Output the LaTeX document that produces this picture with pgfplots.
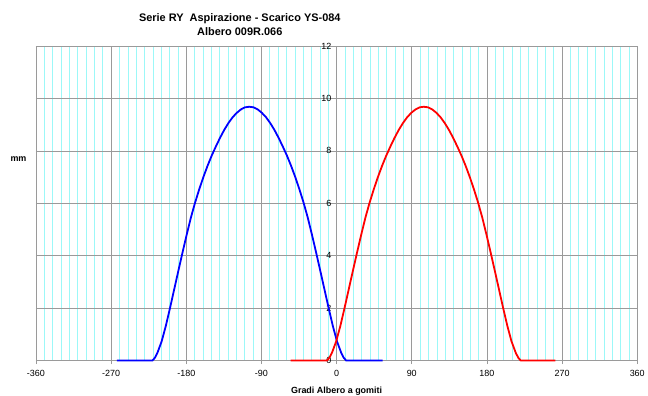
\documentclass[border=0pt]{standalone}
\usepackage{fontspec}
\setmainfont{Liberation Sans}
\usepackage{pgfplots}
\pgfplotsset{compat=1.18}
\definecolor{mincyan}{HTML}{9CF8F8}
\definecolor{majgray}{HTML}{9A9A9A}

\pgfplotstableread{
x y
-263 0
-220.5 0
-217.5 0.11
-214.5 0.30
-209.5 0.73
-204.5 1.32
-199.5 2.00
-194.5 2.71
-189.5 3.42
-184.5 4.12
-179.5 4.80
-174.5 5.45
-169.5 6.02
-164.5 6.53
-159.5 7.00
-154.5 7.43
-149.5 7.82
-144.5 8.17
-139.5 8.50
-134.5 8.80
-129.5 9.06
-124.5 9.28
-119.5 9.45
-114.5 9.58
-109.5 9.66
-104.5 9.68
-99.5 9.66
-94.5 9.58
-89.5 9.45
-84.5 9.28
-79.5 9.06
-74.5 8.80
-69.5 8.50
-64.5 8.17
-59.5 7.82
-54.5 7.43
-49.5 7.00
-44.5 6.53
-39.5 6.02
-34.5 5.45
-29.5 4.80
-24.5 4.12
-19.5 3.42
-14.5 2.71
-9.5 2.00
-4.5 1.32
0.5 0.73
5.5 0.30
8.5 0.11
11.5 0
55 0
}\blue

\pgfplotstableread{
x y
-55 0
-11.5 0
-8.5 0.11
-5.5 0.30
-0.5 0.73
4.5 1.32
9.5 2.00
14.5 2.71
19.5 3.42
24.5 4.12
29.5 4.80
34.5 5.45
39.5 6.02
44.5 6.53
49.5 7.00
54.5 7.43
59.5 7.82
64.5 8.17
69.5 8.50
74.5 8.80
79.5 9.06
84.5 9.28
89.5 9.45
94.5 9.58
99.5 9.66
104.5 9.68
109.5 9.66
114.5 9.58
119.5 9.45
124.5 9.28
129.5 9.06
134.5 8.80
139.5 8.50
144.5 8.17
149.5 7.82
154.5 7.43
159.5 7.00
164.5 6.53
169.5 6.02
174.5 5.45
179.5 4.80
184.5 4.12
189.5 3.42
194.5 2.71
199.5 2.00
204.5 1.32
209.5 0.73
214.5 0.30
217.5 0.11
220.5 0
262 0
}\red

\begin{document}
\begin{tikzpicture}
\begin{axis}[
 width=602bp, height=315bp, scale only axis,
 xmin=-360, xmax=360, ymin=0, ymax=12,
 axis x line=bottom, axis y line=middle,
 axis line style={-, draw=majgray, line width=0.6pt},
 hide obscured x ticks=false, hide obscured y ticks=false,
 xtick={-360,-270,...,360},
 ytick={0,2,...,12},
 minor x tick num=8,
 xminorgrids, xmajorgrids, ymajorgrids,
 minor grid style={mincyan, line width=0.6pt},
 major grid style={majgray, line width=0.6pt},
 minor tick length=0pt,
 major tick length=3.5bp,
 x tick style={draw=majgray, line width=0.6pt},
 y tick style={draw=majgray, line width=0.6pt},
 xtick align=outside, ytick align=center,
 extra x ticks={-270},
 extra x tick labels={},
 extra x tick style={grid style={black, line width=0.6pt}},
 ticklabel style={font=\fontsize{9}{10}\selectfont},
 xticklabel style={yshift=-3bp},
 /pgf/number format/assume math mode=true,
 clip=false,
]
\addplot[blue, line width=1.8pt, line join=round] table {\blue};
\addplot[red, line width=1.8pt, line join=round] table {\red};
\coordinate (BL) at (rel axis cs:0,0);
\coordinate (TR) at (rel axis cs:1,1);
\node[font=\bfseries\fontsize{11}{14}\selectfont, align=center, anchor=south, inner sep=0pt, yshift=10bp] at (rel axis cs:0.339,1) {Serie RY\ \ Aspirazione - Scarico YS-084\\Albero 009R.066};
\node[font=\bfseries\fontsize{9}{10}\selectfont, anchor=base, inner sep=0pt, yshift=-33bp] at (rel axis cs:0.5,0) {Gradi Albero a gomiti};
\node[font=\bfseries\fontsize{9}{10}\selectfont, inner sep=0pt, xshift=-17.5bp] at (rel axis cs:0,0.641) {mm};
\end{axis}
\path ([shift={(-36bp,-35bp)}]BL) rectangle ([shift={(10bp,46bp)}]TR);
\end{tikzpicture}
\end{document}
